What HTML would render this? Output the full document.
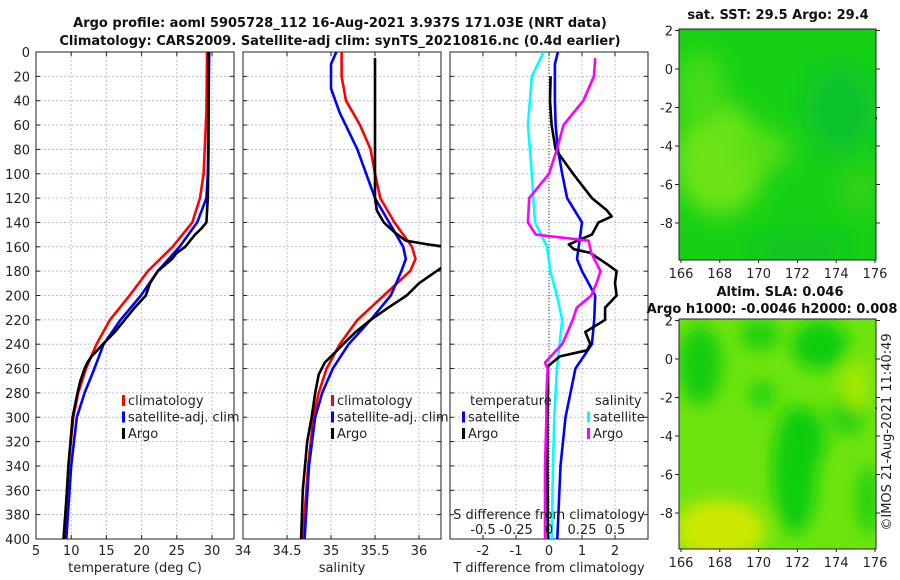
<!DOCTYPE html>
<html><head><meta charset="utf-8">
<style>
body{margin:0;background:#fff;}
svg{display:block;font-family:"DejaVu Sans","Liberation Sans",sans-serif;}
.t{font-size:13px;fill:#222;}
.b{font-size:13px;font-weight:bold;fill:#111;}
</style></head>
<body>
<svg id="c" width="900" height="580" viewBox="0 0 900 580">
<defs>
<filter id="bl1" x="-50%" y="-50%" width="200%" height="200%"><feGaussianBlur stdDeviation="12"/></filter>
<filter id="bl2" x="-50%" y="-50%" width="200%" height="200%"><feGaussianBlur stdDeviation="8"/></filter>
<clipPath id="m1c"><rect x="679" y="29" width="197" height="231"/></clipPath>
<clipPath id="m2c"><rect x="679" y="319" width="197" height="230"/></clipPath>
<clipPath id="p1c"><rect x="36" y="52" width="198" height="487"/></clipPath>
<clipPath id="p2c"><rect x="243" y="52" width="198" height="487"/></clipPath>
<clipPath id="p3c"><rect x="450" y="52" width="198" height="487"/></clipPath>
</defs>
<text class="b" x="340" y="27" text-anchor="middle">Argo profile: aoml 5905728_112 16-Aug-2021 3.937S 171.03E (NRT data)</text>
<text class="b" x="340" y="45" text-anchor="middle">Climatology: CARS2009. Satellite-adj clim: synTS_20210816.nc (0.4d earlier)</text>
<g id="g"></g>
<!-- Map 1 -->
<g clip-path="url(#m1c)">
<rect x="679" y="29" width="197" height="231" fill="rgb(22,208,22)"/>
<g filter="url(#bl1)">
<ellipse cx="720" cy="160" rx="45" ry="55" fill="rgb(110,228,20)"/>
<ellipse cx="760" cy="150" rx="30" ry="20" fill="rgb(90,222,20)"/>
<ellipse cx="700" cy="90" rx="25" ry="40" fill="rgb(70,220,25)"/>
<ellipse cx="840" cy="110" rx="35" ry="45" fill="rgb(15,195,45)"/>
<ellipse cx="860" cy="190" rx="20" ry="25" fill="rgb(50,210,25)"/>
<ellipse cx="800" cy="250" rx="50" ry="15" fill="rgb(15,195,40)"/>
</g>
</g>
<rect x="679" y="29" width="197" height="231" fill="none" stroke="#222" stroke-width="1"/>
<text class="b" x="778" y="19" text-anchor="middle">sat. SST: 29.5 Argo: 29.4</text>
<!-- Map 2 -->
<g clip-path="url(#m2c)">
<rect x="679" y="319" width="197" height="230" fill="rgb(110,228,15)"/>
<g filter="url(#bl2)">
<ellipse cx="700" cy="365" rx="22" ry="40" fill="rgb(20,205,10)"/>
<ellipse cx="760" cy="335" rx="20" ry="15" fill="rgb(30,208,10)"/>
<ellipse cx="820" cy="345" rx="28" ry="25" fill="rgb(15,205,10)"/>
<ellipse cx="795" cy="470" rx="22" ry="65" fill="rgb(10,205,10)"/>
<ellipse cx="810" cy="440" rx="15" ry="30" fill="rgb(15,205,10)"/>
<ellipse cx="762" cy="395" rx="14" ry="14" fill="rgb(40,210,10)"/>
<ellipse cx="847" cy="415" rx="18" ry="20" fill="rgb(40,210,10)"/>
<ellipse cx="868" cy="500" rx="12" ry="35" fill="rgb(40,210,10)"/>
<ellipse cx="720" cy="530" rx="45" ry="30" fill="rgb(205,232,0)"/>
<ellipse cx="855" cy="385" rx="14" ry="25" fill="rgb(165,232,0)"/>
</g>
</g>
<rect x="679" y="319" width="197" height="230" fill="none" stroke="#222" stroke-width="1"/>
<text class="b" x="780" y="296" text-anchor="middle">Altim. SLA: 0.046</text>
<text class="b" x="772" y="313" text-anchor="middle">Argo h1000: -0.0046 h2000: 0.008</text>
<text class="t" transform="translate(891,432) rotate(-90)" text-anchor="middle">©IMOS 21-Aug-2021 11:40:49</text>
</svg>
<script>
// ---------- data ----------
const depthTicks=[0,20,40,60,80,100,120,140,160,180,200,220,240,260,280,300,320,340,360,380,400];
const tempTicks=[5,10,15,20,25,30];
const salTicks=[34,34.5,35,35.5,36];
const tdiffTicks=[-2,-1,0,1,2];
const sdiffTickLabels=["-0.5","-0.25","0","0.25","0.5"];
const sdiffTicks=[-0.5,-0.25,0,0.25,0.5];
const latTicks=[2,0,-2,-4,-6,-8];
const lonTicks=[166,168,170,172,174,176];

const tClimD=[0,50,100,120,140,160,180,200,220,240,260,280,300,340,400];
const tClimV=[29.3,29.2,28.8,28.3,27.2,24.4,20.9,18.3,15.5,13.6,12.1,11.0,10.3,9.6,9.0];
const tSatD=[0,50,100,120,140,160,180,200,220,240,260,280,300,340,400];
const tSatV=[29.6,29.5,29.4,29.2,27.9,25.4,22.3,19.9,17.0,14.6,13.3,11.9,10.8,10.0,9.3];
const tArgoD=[0,40,80,120,130,140,145,150,160,165,170,180,190,200,210,220,230,240,250,255,260,270,280,300,320,340,360,400];
const tArgoV=[29.5,29.5,29.5,29.4,29.3,29.2,28.5,27.6,26.2,25.0,24.3,22.3,21.2,20.6,19.0,17.6,16.2,14.5,12.9,12.3,11.9,11.3,10.9,10.2,9.9,9.6,9.4,8.9];

const sClimD=[0,20,40,60,80,100,120,140,160,170,180,200,220,240,260,280,300,340,400];
const sClimV=[35.12,35.12,35.17,35.33,35.45,35.5,35.56,35.72,35.92,35.96,35.9,35.6,35.3,35.1,34.95,34.86,34.8,34.74,34.68];
const sSatD=[0,10,30,50,80,100,120,140,160,170,180,200,220,240,260,280,300,340,400];
const sSatV=[35.06,35.0,35.0,35.1,35.3,35.4,35.5,35.66,35.82,35.85,35.8,35.68,35.45,35.2,35.02,34.9,34.82,34.75,34.7];
const sArgoD=[5,60,120,130,140,148,155,158,160,175,180,190,200,210,220,230,240,250,255,265,280,300,320,360,400];
const sArgoV=[35.5,35.5,35.5,35.52,35.6,35.72,35.85,36.1,36.3,36.3,36.2,36.0,35.86,35.65,35.45,35.28,35.14,35.0,34.93,34.86,34.82,34.78,34.73,34.68,34.66];

const dtSatD=[0,10,40,60,80,100,120,140,160,170,180,200,220,240,260,280,300,340,400];
const dtSatV=[0.27,0.18,0.18,0.2,0.27,0.4,0.55,1.0,0.9,0.85,1.0,1.4,1.37,1.3,0.8,0.65,0.5,0.35,0.25];
const dtArgoD=[20,40,60,80,100,120,130,135,140,150,158,162,165,175,180,190,200,210,220,230,240,245,250,258,280,300,340,400];
const dtArgoV=[0.05,0.03,0.08,0.2,0.73,1.3,1.75,1.9,1.5,1.3,0.6,0.75,1.25,1.8,2.05,2.0,2.05,1.7,1.7,1.1,1.25,1.15,0.33,-0.03,-0.03,-0.05,-0.05,-0.03];
const dsSatD=[0,20,40,60,80,100,120,140,160,180,200,220,240,260,280,300,340,400];
const dsSatV=[-0.04,-0.13,-0.145,-0.16,-0.145,-0.13,-0.12,-0.105,-0.015,0.01,0.06,0.1,0.08,0.06,0.05,0.04,0.03,0.02];
const dsArgoD=[5,20,40,60,80,100,120,140,150,155,165,180,190,200,210,220,240,255,260,280,300,340,400];
const dsArgoV=[0.35,0.34,0.26,0.11,0.06,0.0,-0.15,-0.16,-0.1,0.3,0.32,0.39,0.36,0.32,0.21,0.18,0.1,-0.03,-0.01,-0.02,-0.02,-0.03,-0.03];

// ---------- axes ----------
const Y0=52,Y1=539;
const yD=d=>Y0+(Y1-Y0)*d/400;
const xT=v=>36+(v-5)*7.04;
const xS=v=>243+(v-34)*88;
const xDT=v=>549+v*33;
const xDS=v=>549+v*132;
const xLon=v=>681+(v-166)*19.4;
const yLat1=v=>69-v*19.25;
const yLat2=v=>359-v*19.25;

const NS="http://www.w3.org/2000/svg";
const svg=document.getElementById('g');
function mk(tag,attrs,parent){const e=document.createElementNS(NS,tag);for(const k in attrs)e.setAttribute(k,attrs[k]);(parent||svg).appendChild(e);return e;}
function txt(s,x,y,anchor,parent){const e=mk('text',{x:x,y:y,'text-anchor':anchor||'middle','class':'t'},parent);e.textContent=s;return e;}

function panel(name,x0,ticks,fx,labels,xlabel){
  const g=mk('g',{});
  
  
  ticks.forEach(t=>{const x=fx(t);if(x>x0+1&&x<x0+197){const l=mk('line',{x1:x,x2:x,y1:Y0,y2:Y1,stroke:'#b8bfe0','stroke-dasharray':'2,2','stroke-width':1},g);}});
  depthTicks.forEach(d=>{const y=yD(d);const l=mk('line',{x1:x0,x2:x0+198,y1:y,y2:y,stroke:'#b8bfe0','stroke-dasharray':'2,2','stroke-width':1},g);
    mk('line',{x1:x0,x2:x0+4,y1:y,y2:y,stroke:'#222'},g);mk('line',{x1:x0+194,x2:x0+198,y1:y,y2:y,stroke:'#222'},g);});
  ticks.forEach((t,i)=>{const x=fx(t);mk('line',{x1:x,x2:x,y1:Y1,y2:Y1-4,stroke:'#222'},g);mk('line',{x1:x,x2:x,y1:Y0,y2:Y0+4,stroke:'#222'},g);
    if(labels){const e=txt(labels[i],x,Y1+16,'middle',g);}});
  const r=mk('rect',{x:x0,y:Y0,width:198,height:Y1-Y0,fill:'none',stroke:'#222','stroke-width':1},g);
  if(xlabel){const e=txt(xlabel,x0+99,Y1+33,'middle',g);}
  return g;
}
const g1=panel('temperature-panel',36,tempTicks,xT,tempTicks.map(String),'temperature (deg C)');
depthTicks.forEach(d=>{const e=txt(String(d),30,yD(d)+5,'end',g1);});
const g2=panel('salinity-panel',243,salTicks,xS,salTicks.map(String),'salinity');
const g3=panel('difference-panel',450,tdiffTicks,xDT,tdiffTicks.map(String),'T difference from climatology');
const zl=mk('line',{x1:549,x2:549,y1:Y0,y2:Y1,stroke:'#333','stroke-dasharray':'1,2'},g3);



function line(parent,D,V,fx,color,name,clip){
  const pts=D.map((d,i)=>fx(V[i]).toFixed(1)+','+yD(d).toFixed(1)).join(' ');
  const p=mk('polyline',{points:pts,fill:'none',stroke:color,'stroke-width':2.6,'stroke-linejoin':'round','clip-path':'url(#'+clip+')'},parent);
  
  
}
line(g1,tClimD,tClimV,xT,'#ff0000','temp-climatology-line','p1c');
line(g1,tSatD,tSatV,xT,'#0000ff','temp-satellite-line','p1c');
line(g1,tArgoD,tArgoV,xT,'#000','temp-argo-line','p1c');
line(g2,sClimD,sClimV,xS,'#ff0000','sal-climatology-line','p2c');
line(g2,sSatD,sSatV,xS,'#0000ff','sal-satellite-line','p2c');
line(g2,sArgoD,sArgoV,xS,'#000','sal-argo-line','p2c');
line(g3,dsSatD,dsSatV,xDS,'#00ffff','sdiff-satellite-line','p3c');
line(g3,dtSatD,dtSatV,xDT,'#0000ff','tdiff-satellite-line','p3c');
line(g3,dtArgoD,dtArgoV,xDT,'#000','tdiff-argo-line','p3c');
line(g3,dsArgoD,dsArgoV,xDS,'#ff00ff','sdiff-argo-line','p3c');

// S axis labels inside panel 3
const st=txt('S difference from climatology',549,519,'middle',g3);


sdiffTicks.forEach((t,i)=>{const e=txt(sdiffTickLabels[i],xDS(t),534,'middle',g3);});

// legends
function legend(parent,x,y,items,name){
  const g=mk('g',{},parent);
  
  
  items.forEach((it,i)=>{const yy=y+i*16.5;
    if(it[1])mk('rect',{x:x,y:yy-10,width:3,height:11,fill:it[1]},g);
    txt(it[0],x+(it[1]?6:0),yy,'start',g);});
}
legend(g1,122,405,[['climatology','#ff0000'],['satellite-adj. clim','#0000ff'],['Argo','#000']],'temp-legend');
legend(g2,331,405,[['climatology','#ff0000'],['satellite-adj. clim','#0000ff'],['Argo','#000']],'sal-legend');
legend(g3,470,405,[['temperature',null]],'tdiff-legend-title');
legend(g3,462,421.5,[['satellite','#0000ff'],['Argo','#000']],'tdiff-legend');
legend(g3,595,405,[['salinity',null]],'sdiff-legend-title');
legend(g3,587,421.5,[['satellite','#00ffff'],['Argo','#ff00ff']],'sdiff-legend');

// maps ticks
function mapAxes(yLat,yBot,name){
  const g=mk('g',{});
  
  
  latTicks.forEach(v=>{const y=yLat(v);mk('line',{x1:679,x2:675,y1:y,y2:y,stroke:'#222'},g);mk('line',{x1:876,x2:880,y1:y,y2:y,stroke:'#222'},g);txt(String(v),673,y+5,'end',g);});
  lonTicks.forEach(v=>{const x=xLon(v);mk('line',{x1:x,x2:x,y1:yBot,y2:yBot+3,stroke:'#222'},g);txt(String(v),x,yBot+18,'middle',g);});
  const c=mk('circle',{cx:xLon(171.03),cy:yLat(-3.937),r:5.5,fill:'none',stroke:'#000','stroke-width':1.2},g);
  
  [[172.9,1.9],[173,1.5],[173.1,1.2],[173.5,0.2],[174,0.4],[174.7,-1.1],[175.1,-1.7],[175.6,-1.9],[176,-2.5],[166.9,-0.5],[169.5,-0.9]].forEach(p=>mk('rect',{x:xLon(p[0]),y:yLat(p[1]),width:2,height:2,fill:'#000'},g));
}
mapAxes(yLat1,260,'sst-map-axes');
mapAxes(yLat2,549,'sla-map-axes');
</script>
</body></html>
